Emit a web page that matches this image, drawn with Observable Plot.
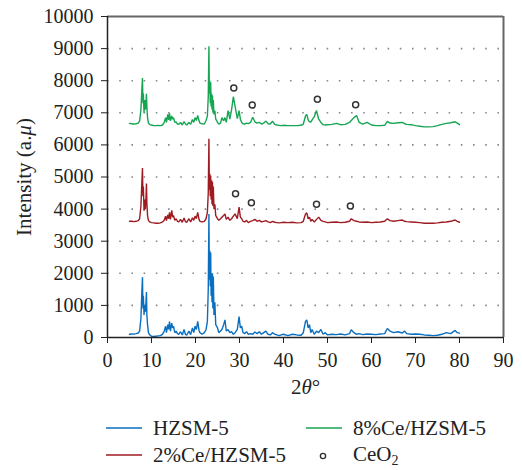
<!DOCTYPE html>
<html><head><meta charset="utf-8">
<script src="https://cdn.jsdelivr.net/npm/d3@7"></script>
<script src="https://cdn.jsdelivr.net/npm/@observablehq/plot@0.6"></script>
<style>
body{margin:0;background:#fff;font-family:"Liberation Serif",serif;}
#wrap{position:relative;width:522px;height:470px;}
.item{position:absolute;height:24px;display:flex;align-items:center;font-size:21px;color:#222;white-space:nowrap;}
.item svg{display:block;}
</style></head><body>
<div id="wrap"><div id="chart"></div><div id="legend"></div></div>
<script>
// 2θ sample positions (shared by all three patterns)
const twoTheta = [
 5,5.5,6,6.5,7,7.3,7.6,7.8,7.95,8.05,8.15,8.3,8.45,8.6,8.75,8.85,8.95,9.1,9.3,9.6,
 10,10.5,11,11.5,12,12.5,12.9,13.2,13.4,13.7,13.9,14.1,14.3,14.6,14.8,15,15.3,15.6,15.9,16.2,16.6,17,17.4,17.7,18,18.5,18.9,19.3,19.6,19.9,20.2,20.5,20.8,21,21.5,
 22,22.4,22.7,22.9,23.05,23.15,23.25,23.35,23.45,23.55,23.65,23.75,23.85,23.95,24.05,24.2,24.4,24.6,24.8,25,
 25.3,25.7,26,26.4,26.7,27,27.4,27.8,28.2,28.6,29,29.5,29.9,30.2,30.5,30.8,31.2,31.6,32,32.5,33,33.5,34,34.5,35,35.5,36,36.5,37,37.5,38,38.5,39,39.5,40,
 41,42,43,44,44.5,45,45.3,45.6,45.9,46.2,46.5,47,47.5,48,48.5,49,49.5,50,51,52,53,54,55,55.4,56,56.6,57.2,58,59,60,61,62,63,63.6,64.2,65,66,67,67.5,68,69,70,71,72,73,74,75,76,77,78,79,79.5,80
];
const hzsm5 = [
 100,110,105,120,140,200,600,1400,1880,900,1300,700,1000,800,1100,1420,700,400,150,80,
 40,30,40,50,60,100,200,350,150,400,250,500,200,450,300,350,150,200,120,100,180,80,250,100,70,200,90,300,150,350,250,500,220,150,100,
 150,250,500,1500,3850,1800,2700,1600,2650,1300,2000,1100,2000,900,1900,700,1100,400,350,300,
 150,200,250,400,550,200,250,150,180,100,150,250,650,300,350,150,120,180,100,120,100,170,120,180,100,150,200,100,80,150,100,80,60,80,100,
 60,100,80,70,150,500,550,300,400,150,250,100,200,150,250,100,150,80,100,90,110,80,120,240,150,100,120,90,110,100,90,110,120,280,200,150,180,140,200,120,100,110,100,80,70,60,70,100,150,120,220,150,135
];
const ce2 = [
 3620,3620,3610,3620,3640,3700,4100,4800,5280,4400,4700,3950,4300,4000,4350,4800,4200,3800,3650,3600,
 3580,3570,3560,3560,3570,3600,3650,3780,3640,3820,3700,3900,3680,3960,3750,3800,3650,3700,3620,3600,3680,3590,3720,3610,3590,3700,3600,3730,3650,3780,3700,3900,3680,3620,3600,
 3620,3700,3900,4500,6190,4600,5100,4400,5050,4300,4900,4150,4850,4100,4700,4000,4150,3800,3750,3700,
 3650,3700,3750,3800,3850,3680,3750,3650,3700,3780,3850,3700,4060,3750,3700,3620,3600,3650,3580,3620,3640,3680,3620,3650,3600,3620,3640,3600,3580,3620,3590,3580,3570,3580,3590,
 3580,3590,3570,3580,3620,3850,3885,3700,3750,3620,3680,3600,3680,3750,3650,3620,3600,3580,3590,3600,3580,3590,3620,3700,3640,3620,3600,3590,3600,3580,3590,3600,3620,3700,3640,3620,3640,3660,3620,3610,3600,3590,3580,3560,3560,3560,3570,3590,3600,3620,3660,3620,3590
];
const ce8 = [
 6670,6660,6650,6660,6680,6750,7100,7700,8080,7300,7600,7000,7400,7100,7300,7590,7200,6850,6680,6630,
 6620,6600,6600,6610,6600,6620,6700,6850,6700,6950,6780,6980,6750,6900,6800,6850,6700,6720,6650,6640,6700,6620,6730,6650,6620,6700,6640,6790,6700,6850,6760,6920,6750,6680,6660,
 6650,6760,6900,7500,9070,7600,8000,7300,7950,7200,7600,7100,7550,7000,7400,6950,7070,6800,6760,6700,
 6650,6680,6850,6750,6850,6700,7070,6800,7100,7500,7200,6820,7070,6800,6700,6660,6650,6680,6660,6700,6860,6720,6680,6700,6650,6680,6740,6660,6650,6740,6640,6620,6610,6600,6610,
 6600,6600,6600,6610,6650,6900,6950,6780,6720,6710,6780,6880,7070,6800,6700,6630,6620,6630,6640,6670,6630,6640,6700,6760,6850,6916,6700,6650,6700,6620,6600,6600,6610,6730,6680,6670,6690,6700,6660,6640,6630,6600,6580,6560,6560,6570,6600,6640,6670,6690,6720,6680,6630
];
// CeO2 reflection markers
const ceo2X = [28.7, 32.9, 47.7, 56.4, 29.1, 32.7, 47.5, 55.2];
const ceo2Y = [7770, 7240, 7420, 7250, 4477, 4196, 4153, 4100];
const xTicks = [0,10,20,30,40,50,60,70,80,90];
const yTicks = [0,1000,2000,3000,4000,5000,6000,7000,8000,9000,10000];
const gridY = [1000,2000,3000,4000,5000,6000,7000,8000,9000];
const seriesNames = ["HZSM-5", "2%Ce/HZSM-5", "8%Ce/HZSM-5"];
const seriesColors = ["#0b6fbf", "#9e1b22", "#16a552"];

const seriesVals = [hzsm5, ce2, ce8];
const rows = seriesVals.map((vals, k) => twoTheta.map((x, i) => ({x, y: vals[i], s: seriesNames[k]})));
const ceo2 = ceo2X.map((x, i) => ({x, y: ceo2Y[i]}));

const plot = Plot.plot({
  width: 522, height: 400,
  marginLeft: 107, marginRight: 19, marginTop: 16, marginBottom: 63,
  x: {domain: [0, 90]},
  y: {domain: [0, 10000]},
  style: {fontFamily: "'Liberation Serif', serif", fontSize: "20px", color: "#222", background: "#fff"},
  marks: [
    Plot.ruleY(gridY, {stroke: "#888", strokeWidth: 1.6, strokeDasharray: "1.6,10.6"}),
    ...rows.map((r, k) => Plot.line(r, {x: "x", y: "y", stroke: seriesColors[k], strokeWidth: 1.4, strokeLinejoin: "miter"})),
    Plot.dot(ceo2, {x: "x", y: "y", r: 3, stroke: "#333", strokeWidth: 1.5, fill: "white"}),
    Plot.ruleY([10000], {stroke: "#666", strokeWidth: 2}),
    Plot.ruleX([90], {stroke: "#666", strokeWidth: 2}),
    Plot.axisX({ticks: xTicks, tickSize: 6, tickPadding: 9, label: null, tickFormat: d => String(d)}),
    Plot.axisY({ticks: yTicks, tickSize: 6, tickPadding: 8, label: null, tickFormat: d => String(d)}),
    Plot.ruleY([0], {stroke: "#222", strokeWidth: 1.5}),
    Plot.ruleX([0], {stroke: "#222", strokeWidth: 1.5}),
    Plot.text(["Intensity (a.μ)"], {frameAnchor: "left", dx: -83, rotate: -90, textAnchor: "middle", lineAnchor: "middle", fontSize: 21, fill: "#222"}),
    Plot.text(["2θ°"], {frameAnchor: "bottom", dy: 50, textAnchor: "middle", lineAnchor: "middle", fontSize: 21, fill: "#222"})
  ]
});
document.getElementById("chart").appendChild(plot);

// italic Greek letters in axis titles
d3.select(plot).selectAll("text").each(function() {
  const t = this.textContent;
  const el = d3.select(this);
  if (t === "Intensity (a.μ)") {
    el.text(null);
    el.append("tspan").text("Intensity (a.");
    el.append("tspan").attr("font-style", "italic").text("μ");
    el.append("tspan").text(")");
  } else if (t === "2θ°") {
    el.text(null);
    el.append("tspan").text("2");
    el.append("tspan").attr("font-style", "italic").text("θ");
    el.append("tspan").text("°");
  }
});

// legend below the chart
const legendItems = [
  {label: "HZSM-5", color: seriesColors[0], left: 106, cy: 428, type: "line"},
  {label: "8%Ce/HZSM-5", color: seriesColors[2], left: 306, cy: 428, type: "line"},
  {label: "2%Ce/HZSM-5", color: seriesColors[1], left: 106, cy: 455, type: "line"},
  {label: "CeO<sub style='font-size:14px;vertical-align:-4px'>2</sub>", color: "#333", left: 306, cy: 455, type: "dot"}
];
const leg = document.getElementById("legend");
legendItems.forEach(it => {
  const d = document.createElement("div");
  d.className = "item";
  d.style.left = it.left + "px";
  d.style.top = (it.cy - 12) + "px";
  const sw = it.type === "line"
    ? `<svg width="36" height="24"><line x1="0" x2="36" y1="12" y2="12" stroke="${it.color}" stroke-width="1.6"/></svg>`
    : `<svg width="36" height="24"><circle cx="17" cy="13" r="2.6" fill="none" stroke="${it.color}" stroke-width="1.4"/></svg>`;
  d.innerHTML = sw + `<span style="margin-left:11px">${it.label}</span>`;
  leg.appendChild(d);
});
</script></body></html>
